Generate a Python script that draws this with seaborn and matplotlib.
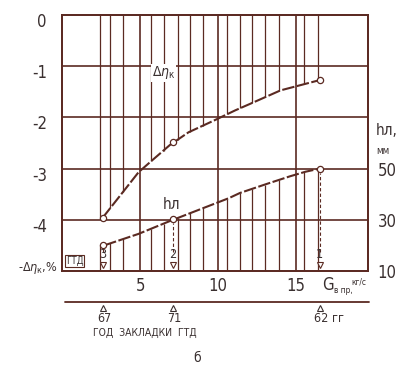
import numpy as np
import matplotlib
matplotlib.use("Agg")
import matplotlib.pyplot as plt
import matplotlib.transforms as mtransforms
import pandas as pd
import seaborn as sns

# Δη_к curve (left axis, %)
eta_x = [2.6, 4.1, 4.9, 5.8, 6.9, 8.1, 9.8, 11.1, 12.0, 14.0, 16.5]
eta_y = [-3.96, -3.38, -3.07, -2.83, -2.54, -2.29, -2.05, -1.86, -1.74, -1.47, -1.27]

# h_л curve (right axis, mm)
h_x = [2.7, 4.9, 6.9, 8.8, 10.7, 11.4, 13.1, 14.6, 15.6, 16.5]
h_y = [20, 24.5, 29.5, 34, 38.5, 40.5, 44, 47, 48.8, 50]

# the three engines marked with circles
gtd_no = ["3", "2", "1"]
gtd_year = ["67", "71", "62 гг"]
gtd_x = [2.6, 7.1, 16.5]
gtd_eta = [-3.96, -2.48, -1.27]
gtd_h = [20, 30.5, 50]

eta_ticks = [0, -1, -2, -3, -4]
eta_labels = ["0", "-1", "-2", "-3", "-4"]
h_ticks = [10, 30, 50]
g_ticks = [5, 10, 15]

# thin hatching lines above the upper curve and below the lower one
hatch_x = [2.4, 3.1, 3.9, 5.7, 6.5, 7.4, 8.2, 9.0, 10.6, 11.4, 12.2, 13.0, 13.9, 15.5, 16.4]

INK = "#5b2a22"
TXT = "#3a3030"

sns.set_style("white")
plt.rcParams['font.family'] = ['Liberation Sans Narrow', 'DejaVu Sans']
plt.rcParams['font.stretch'] = 'condensed'

fig = plt.figure(figsize=(4.03, 3.79), dpi=100)
ax = fig.add_axes([0.154, 0.285, 0.759, 0.675])
ax.set_xlim(0, 19.6)
ax.set_ylim(-5, 0)
ax2 = ax.twinx()
ax2.set_ylim(10, 110)


def h_to_eta(h):
    # right axis mm -> left axis units
    return (np.asarray(h) - 10) / 20 - 5


# grid
for v in eta_ticks[1:]:
    ax.axhline(v, color=INK, lw=1.2, zorder=1)
for g in g_ticks:
    ax.axvline(g, color=INK, lw=1.2, zorder=1)

# hatching
top_end = np.interp(hatch_x, eta_x, eta_y)
bot_end = h_to_eta(np.interp(hatch_x, h_x, h_y))
ax.vlines(hatch_x, top_end, 0, color=INK, lw=0.9, zorder=1)
ax.vlines(hatch_x, -5, bot_end, color=INK, lw=0.9, zorder=1)

# curves
df_eta = pd.DataFrame({'G': eta_x, 'eta': eta_y})
df_h = pd.DataFrame({'G': h_x, 'h': h_y})
sns.lineplot(data=df_eta, x='G', y='eta', ax=ax, color=INK, lw=1.5,
             linestyle=(0, (6, 1.2)), zorder=3)
sns.lineplot(data=df_h, x='G', y='h', ax=ax2, color=INK, lw=1.5,
             linestyle=(0, (6, 1.2)), zorder=3)
sns.scatterplot(x=gtd_x, y=gtd_eta, ax=ax, marker='o', s=20, color='white',
                edgecolor=INK, linewidth=0.9, zorder=5)
sns.scatterplot(x=gtd_x, y=gtd_h, ax=ax2, marker='o', s=20, color='white',
                edgecolor=INK, linewidth=0.9, zorder=5)

# engine markers at the bottom of the field
for x, n, h in zip(gtd_x, gtd_no, gtd_h):
    ax.vlines(x, -4.62, h_to_eta(h) - 0.08, color=INK, lw=0.8, linestyles=(0, (3, 2)))
    ax.text(x, -4.68, n, ha='center', va='center', fontsize=9, color=TXT)
    ax.plot(x, -4.88, marker='v', ms=5, mfc='white', mec=INK, mew=0.8)

# curve labels
ax.text(6.5, -1.13, r"$\Delta\eta_{\mathrm{к}}$", ha='center', va='center',
        fontsize=10, color=TXT, bbox=dict(fc='white', ec='none', pad=0.5))
ax.text(7.0, -3.71, "hл", ha='center', va='center', fontsize=11, color=TXT,
        bbox=dict(fc='white', ec='none', pad=0.3))
ax.text(0.012, 0.018, "ГТД", transform=ax.transAxes, ha='left', va='bottom',
        fontsize=7, color=TXT, bbox=dict(fc='white', ec=INK, lw=0.8, pad=0.8))

# ticks
ax.set_yticks(eta_ticks)
ax.set_yticklabels(eta_labels)
ax.set_xticks(g_ticks)
ax.tick_params(axis='y', length=0, pad=11, labelsize=12, labelcolor=TXT)
ax.tick_params(axis='x', length=0, pad=4, labelsize=12, labelcolor=TXT)
for t in ax.get_yticklabels():
    t.set_transform(t.get_transform() + mtransforms.ScaledTranslation(0, -0.05, fig.dpi_scale_trans))
ax2.set_yticks(h_ticks)
ax2.tick_params(axis='y', length=0, pad=7, labelsize=12, labelcolor=TXT)
ax.set_xlabel("")
ax.set_ylabel("")
ax2.set_ylabel("")

for a in (ax, ax2):
    for s in a.spines.values():
        s.set_color(INK)
        s.set_linewidth(1.3)
        s.set_visible(True)

# axis names
ax.text(-0.013, 0.012, r"-$\Delta\eta_{\mathrm{к}}$,%", transform=ax.transAxes,
        ha='right', va='center', fontsize=9, color=TXT)
ax.text(1.025, 0.55, "hл,", transform=ax.transAxes, ha='left', va='center',
        fontsize=11, color=TXT)
ax.text(1.028, 0.47, "мм", transform=ax.transAxes, ha='left', va='center',
        fontsize=7, color=TXT)
ax.text(0.85, -0.055, "G", transform=ax.transAxes, ha='left', va='center',
        fontsize=12, color=TXT)
ax.text(0.888, -0.075, "в пр,", transform=ax.transAxes, ha='left', va='center',
        fontsize=6, color=TXT)
ax.text(0.945, -0.042, "кг/с", transform=ax.transAxes, ha='left', va='center',
        fontsize=6, color=TXT)

# second scale: year the engine was laid down
xt = ax.get_xaxis_transform()
ax.plot([0.01, 1.005], [-0.121, -0.121], transform=ax.transAxes, color=INK,
        lw=1.3, clip_on=False)
for x, yr in zip(gtd_x, gtd_year):
    ax.plot(x, -0.145, marker='^', ms=5, mfc='white', mec=TXT, mew=0.8,
            transform=xt, clip_on=False)
    ax.text(x - 0.35, -0.185, yr, transform=xt, ha='left', va='center',
            fontsize=9, color=TXT)
ax.text(0.27, -0.242, "ГОД  ЗАКЛАДКИ  ГТД", transform=ax.transAxes, ha='center',
        va='center', fontsize=7.5, color=TXT)
ax.text(0.44, -0.34, "б", transform=ax.transAxes, ha='center', va='center',
        fontsize=10, color=TXT)

fig.savefig("out.png", dpi=100, facecolor='white')
